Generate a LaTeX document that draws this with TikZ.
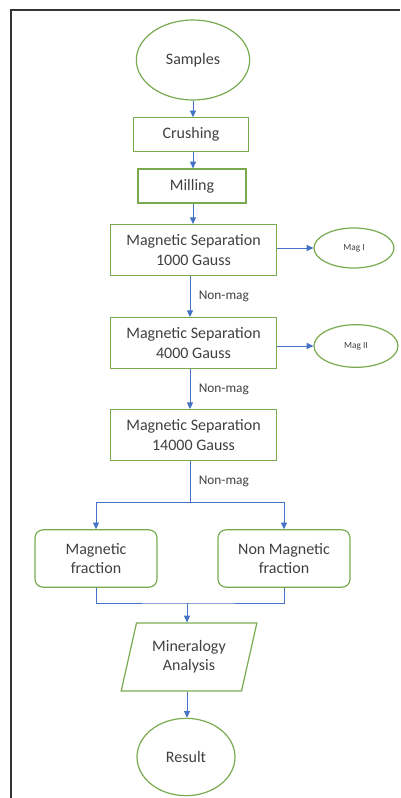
\documentclass[tikz,border=0pt]{standalone}
\usepackage{fontspec}
\setmainfont{Carlito}
\usetikzlibrary{shapes.geometric,arrows.meta,positioning,calc}

\definecolor{boxgreen}{RGB}{122,170,80}
\definecolor{linkblue}{RGB}{68,114,196}
\definecolor{textgray}{RGB}{64,64,64}

\begin{document}
\begin{tikzpicture}[
    x=0.75pt, y=-0.75pt,
    font=\fontsize{12}{14.5}\selectfont, text=textgray,
    oval/.style={ellipse, draw=boxgreen, line width=0.9pt, align=center, inner sep=0pt},
    procbox/.style={rectangle, draw=boxgreen, line width=0.9pt, align=center, minimum width=125pt, minimum height=38pt},
    fracbox/.style={rectangle, draw=boxgreen, line width=0.9pt, align=center, rounded corners=6pt, minimum height=43pt},
    databox/.style={trapezium, trapezium left angle=74, trapezium right angle=106, trapezium stretches=true,
                    draw=boxgreen, line width=0.9pt, align=center, minimum width=102pt, minimum height=51pt},
    arrow/.style={-{Triangle[length=5pt,width=4.5pt]}, draw=linkblue, line width=0.6pt},
    link/.style={draw=linkblue, line width=0.6pt},
    tag/.style={font=\fontsize{10}{12}\selectfont, right, xshift=3pt},
    small/.style={font=\fontsize{7}{8}\selectfont}
]
\useasboundingbox (0,0) rectangle (400,798);

% page frame
\draw[gray!40!black, line width=1.1pt] (11,798) -- (11,10) -- (400,10);

% Start
\node[oval, minimum width=85pt, minimum height=60pt] (samples) at (193,60) {Samples};

% Preparation
\node[procbox, minimum width=86pt, minimum height=25pt] (crush) at (191,134.5) {Crushing};
\node[procbox, minimum width=81pt, minimum height=25.5pt] (mill) at (192,186) {Milling};

% Separation steps
\node[procbox] (sep1) at (193.5,250) {Magnetic Separation\\1000 Gauss};
\node[procbox] (sep2) at (193.5,343) {Magnetic Separation\\4000 Gauss};
\node[procbox] (sep3) at (193.5,435) {Magnetic Separation\\14000 Gauss};

% Magnetic products
\node[oval, small, minimum width=60pt, minimum height=30pt] (mag1) at (354,248) {Mag I};
\node[oval, small, minimum width=63pt, minimum height=32pt] (mag2) at (356,346) {Mag II};

% Fractions
\node[fracbox, minimum width=91.5pt] (magfrac) at (96,558.5) {Magnetic\\fraction};
\node[fracbox, minimum width=99pt] (nonmagfrac) at (284,558.5) {Non Magnetic\\fraction};

% Analysis and end
\node[databox] (analysis) at (189,657) {Mineralogy\\Analysis};
\node[oval, minimum width=73.5pt, minimum height=58pt] (result) at (186,757) {Result};

\coordinate (split) at (190,502);
\coordinate (join) at (187,603);

% Main flow
\draw[arrow] (samples.south) -- (samples.south |- crush.north);
\draw[arrow] (crush.south -| samples.south) -- (samples.south |- mill.north);
\draw[arrow] (mill.south -| samples.south) -- (samples.south |- sep1.north);
\draw[arrow] (sep1.south -| split) -- node[tag] {Non-mag} (sep2.north -| split);
\draw[arrow] (sep2.south -| split) -- node[tag] {Non-mag} (sep3.north -| split);
\draw[link] (sep3.south -| split) -- node[tag] {Non-mag} (split);

% Side outputs
\draw[arrow] (sep1.east |- mag1) -- (mag1.west);
\draw[arrow] (sep2.east |- mag2) -- (mag2.west);

% Branch to fractions
\draw[arrow] (split) -| (magfrac.north);
\draw[arrow] (split) -| (nonmagfrac.north);

% Merge into analysis
\draw[link] (magfrac.south) |- (join) -| (nonmagfrac.south);
\draw[arrow] (join) -- (join |- analysis.north);
\draw[arrow] (analysis.south -| join) -- (join |- result.north);

\end{tikzpicture}
\end{document}
